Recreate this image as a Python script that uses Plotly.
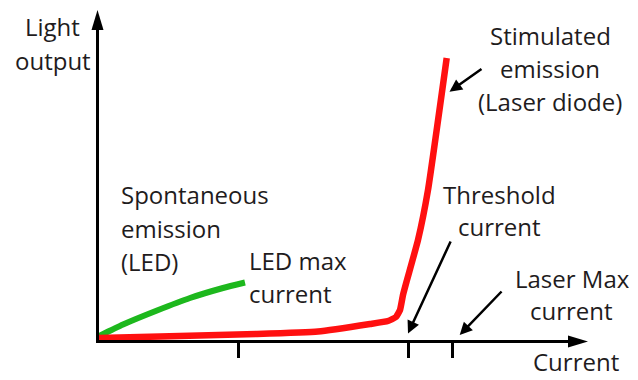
import plotly.graph_objects as go

# ---------------- data (arbitrary units) ----------------
led_current = [0.0, 2.4, 5.8, 9.1, 12.4, 14.6]
led_light = [0.4, 1.55, 2.95, 4.2, 5.2, 5.75]

laser_current = [0.0, 6.1, 15.8, 21.9, 27.1, 28.9, 29.7, 30.1, 30.4, 30.8, 31.9, 32.9, 34.77]
laser_light = [0.2, 0.35, 0.6, 0.85, 1.6, 1.9, 2.3, 3.0, 4.5, 6.0, 10.0, 15.0, 28.2]

tick_currents = [13.9, 30.9, 35.3]          # LED max, threshold, laser max

# ---------------- layout constants ----------------
W, H = 638, 380
ML, MR, MT, MB = 99, 63, 20, 40
PW, PH = W - ML - MR, H - MT - MB
FONT = "Open Sans"
FS = 24
TXT = "#1f1c1d"


def px2paper(px, py):
    return (px - ML) / PW, (H - MB - py) / PH


fig = go.Figure()
fig.add_trace(go.Scatter(x=led_current, y=led_light, mode="lines",
                         line=dict(color="#1db81d", width=6, shape="spline", smoothing=0.5),
                         hoverinfo="skip"))
fig.add_trace(go.Scatter(x=laser_current, y=laser_light, mode="lines",
                         line=dict(color="#ff1010", width=6.5, shape="spline", smoothing=0.4),
                         hoverinfo="skip"))

annotations = []

# text labels: (text, px, py, xanchor, yanchor)
labels = [
    ("Light", 52.5, 26, "center", "middle"), ("output", 52.5, 60, "center", "middle"),
    ("Stimulated", 550, 35, "center", "middle"), ("emission", 550, 68.5, "center", "middle"),
    ("(Laser diode)", 550, 101.5, "center", "middle"),
    ("Spontaneous", 119, 194.5, "left", "middle"), ("emission", 119, 228, "left", "middle"),
    ("(LED)", 119, 261.5, "left", "middle"),
    ("LED max", 247, 260, "left", "middle"), ("current", 247, 293, "left", "middle"),
    ("Threshold", 499.5, 194, "center", "middle"), ("current", 499.5, 226.5, "center", "middle"),
    ("Laser Max", 572, 278, "center", "middle"), ("current", 571.5, 310, "center", "middle"),
    ("Current", 575.5, 380, "center", "bottom"),
]
for t, px, py, xa, ya in labels:
    xp, yp = px2paper(px, py)
    annotations.append(dict(text=t, x=xp, y=yp, xref="paper", yref="paper",
                            xanchor=xa, yanchor=ya, showarrow=False,
                            font=dict(family=FONT, size=FS, color=TXT)))

# callout arrows (tip, tail) in axis units
callouts = [((35.05, 24.83), (38.4, 27.2)),
            ((30.9, 0.65), (35.23, 10.0)),
            ((36.07, 0.5), (40.4, 5.0))]
for (tx, ty), (ax, ay) in callouts:
    annotations.append(dict(text="", x=tx, y=ty, ax=ax, ay=ay, xref="x", yref="y",
                            axref="x", ayref="y", showarrow=True, arrowhead=2,
                            arrowsize=1, arrowwidth=2.5, arrowcolor="black", standoff=0))

shapes = [
    # x-axis arrowhead
    dict(type="path", xref="paper", yref="paper", xsizemode="pixel", ysizemode="pixel",
         xanchor=1, yanchor=0, path="M13,-1.5 L-7,4.5 L-7,-7.5 Z",
         fillcolor="black", line=dict(width=0)),
    # y-axis arrowhead
    dict(type="path", xref="paper", yref="paper", xsizemode="pixel", ysizemode="pixel",
         xanchor=0, yanchor=1, path="M-1.5,10 L4.5,-10 L-7.5,-10 Z",
         fillcolor="black", line=dict(width=0)),
]

fig.update_layout(
    width=W, height=H, margin=dict(l=ML, r=MR, t=MT, b=MB),
    paper_bgcolor="white", plot_bgcolor="white", showlegend=False,
    annotations=annotations, shapes=shapes,
    xaxis=dict(range=[0, PW / 10], showline=True, linewidth=3, linecolor="black",
               ticks="outside", tickvals=tick_currents, ticklen=15, tickwidth=3,
               tickcolor="black", showticklabels=False, showgrid=False, zeroline=False,
               fixedrange=True),
    yaxis=dict(range=[0, PH / 10], showline=True, linewidth=3, linecolor="black",
               ticks="", showticklabels=False, showgrid=False, zeroline=False,
               fixedrange=True),
)

fig.write_html("out.html", config={"displayModeBar": False},
               post_script="document.body.style.margin='0';document.body.style.overflow='hidden';")
